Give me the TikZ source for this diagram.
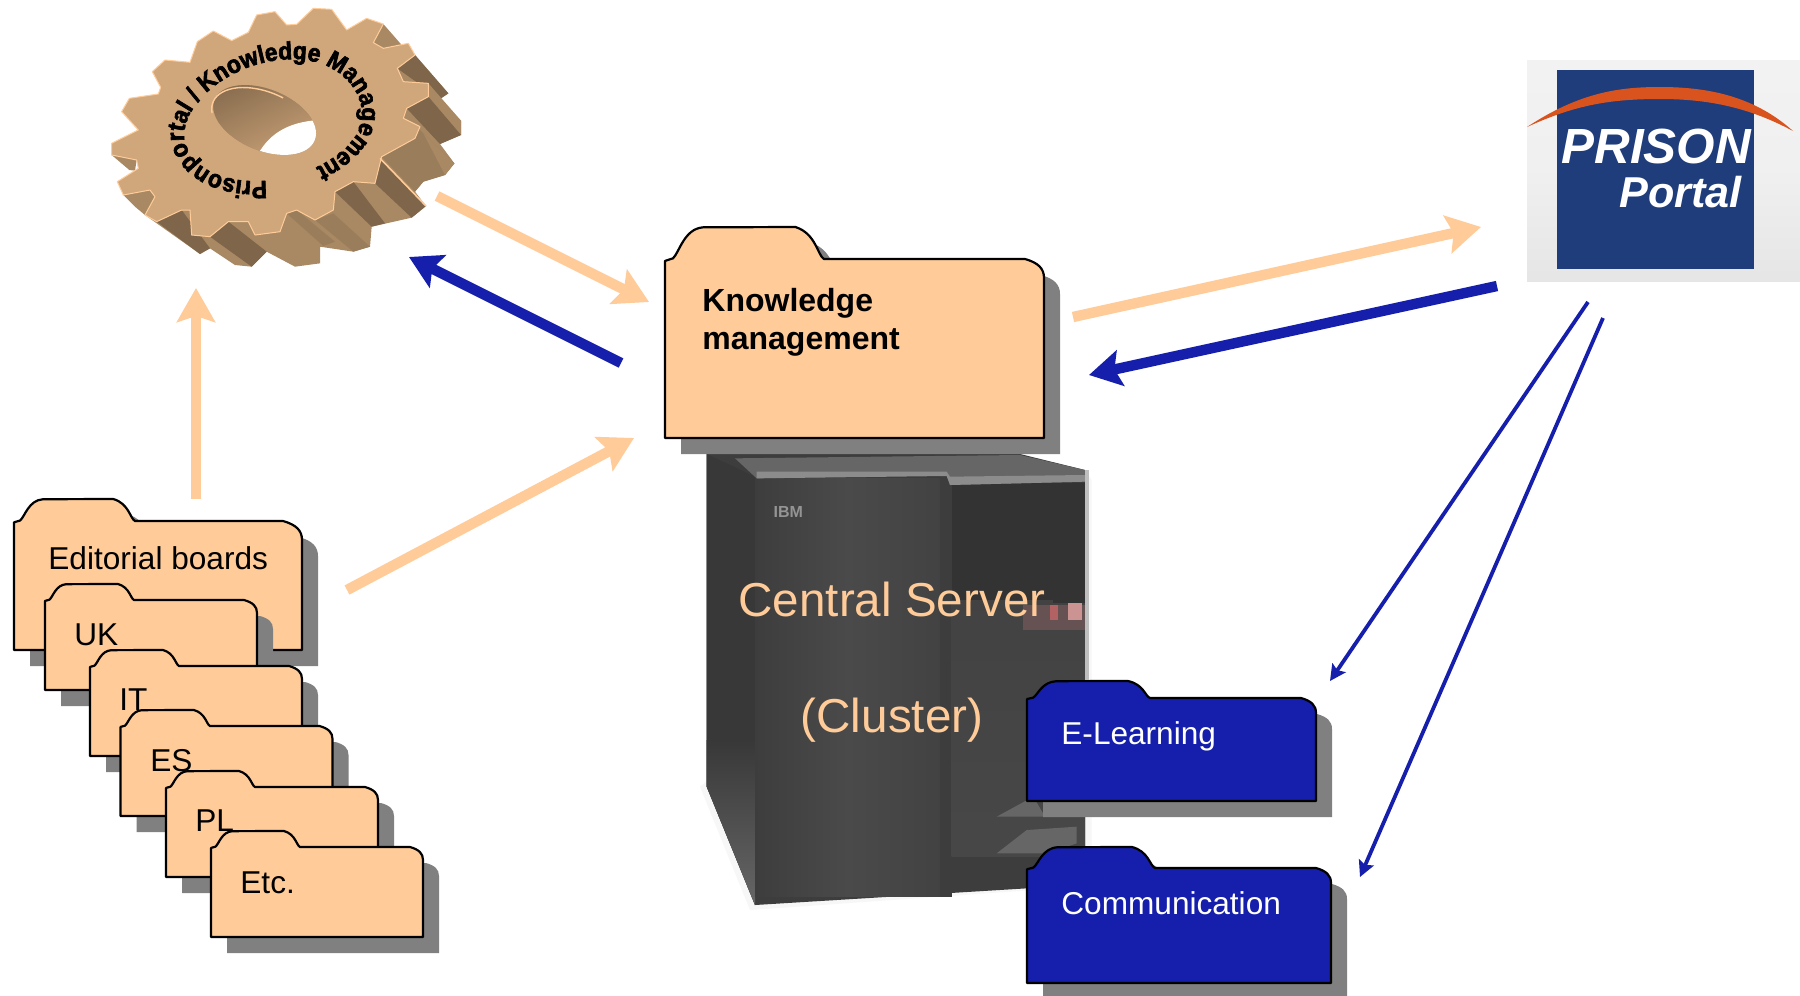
\documentclass[tikz,border=0pt]{standalone}
\usepackage{fontspec}
\setmainfont{Liberation Sans}
\newfontfamily\gearfont[UprightFont=* Bold,FakeBold=2.6,FakeStretch=0.92]{Liberation Sans}
\usetikzlibrary{arrows.meta,decorations.text,calc}
\definecolor{peach}{HTML}{FFCC99}
\definecolor{royal}{HTML}{151FAB}
\definecolor{fshadow}{HTML}{808080}
\definecolor{gearface}{HTML}{D0A67B}
\definecolor{geardark}{HTML}{7F6549}
\definecolor{gearmid}{HTML}{A98963}
\definecolor{gearmidb}{HTML}{9A7D5B}
\definecolor{logoblue}{HTML}{1F3D7A}
\definecolor{logoarc}{HTML}{D9531E}
\tikzset{
  peacharrow/.style={draw=peach,line width=5.2pt,-{Stealth[length=17pt,width=19pt,inset=3pt]}},
  bluearrow/.style={draw=royal,line width=5.2pt,-{Stealth[length=16pt,width=18pt,inset=3pt]}},
  thinarrow/.style={draw=royal,line width=1.9pt,-{Stealth[length=8pt,width=8pt,inset=1.5pt]}},
  foldertext/.style={anchor=base west,inner sep=0pt,font=\fontsize{15.8}{18}\selectfont},
}
% L R tabtop bodytop bottom tabend cornerwidth fill
\newcommand\folder[8]{%
  \pgfmathsetmacro\tw{#6-#1}\pgfmathsetmacro\th{#4-#3}%
  \fill[fill=fshadow,shift={(16,16)}] (#1,#5) -- ({#1},{#3+1.06*\th})
  .. controls ({#1+.02*\tw},{#3+1.02*\th}) and ({#1+.04*\tw},{#3+1.0*\th}) .. ({#1+.05*\tw},{#3+.98*\th})
  .. controls ({#1+.09*\tw},{#3+.8*\th}) and ({#1+.12*\tw},{#3+.05*\th}) .. ({#1+.24*\tw},{#3+.01*\th})
  -- ({#1+.82*\tw},#3)
  .. controls ({#1+.95*\tw},{#3+.2*\th}) and ({#1+.96*\tw},{#3+.9*\th}) .. (#6,#4)
  -- ({#2-#7},#4)
  .. controls ({#2-.3*#7},{#4+.2*#7}) and (#2,{#4+.5*#7}) .. (#2,{#4+#7})
  -- (#2,#5) -- cycle;
  \filldraw[fill=#8,draw=black,line width=1.1pt,line join=round] (#1,#5) -- ({#1},{#3+1.06*\th})
  .. controls ({#1+.02*\tw},{#3+1.02*\th}) and ({#1+.04*\tw},{#3+1.0*\th}) .. ({#1+.05*\tw},{#3+.98*\th})
  .. controls ({#1+.09*\tw},{#3+.8*\th}) and ({#1+.12*\tw},{#3+.05*\th}) .. ({#1+.24*\tw},{#3+.01*\th})
  -- ({#1+.82*\tw},#3)
  .. controls ({#1+.95*\tw},{#3+.2*\th}) and ({#1+.96*\tw},{#3+.9*\th}) .. (#6,#4)
  -- ({#2-#7},#4)
  .. controls ({#2-.3*#7},{#4+.2*#7}) and (#2,{#4+.5*#7}) .. (#2,{#4+#7})
  -- (#2,#5) -- cycle;}
\begin{document}
\begin{tikzpicture}[x=0.5pt,y=-0.5pt]
\useasboundingbox (0,0) rectangle (1800,996);
\fill[white] (0,0) rectangle (1800,996);

% ---------- gear
\begin{scope}[shift={(90,0)},x=0.16667pt,y=-0.16667pt]
  \fill[gearmid] (165,645)--(330,762)--(360,745)--(435,795)--(485,800)--(530,755)--(615,800)--(690,790)
    --(690,740)--(790,755)--(840,740)--(845,680)--(965,653)--(1008,618)--(975,575)--(1000,545)--(1065,525)
    --(1093,490)--(1050,432)--(1113,405)--(1113,362)--(1050,297)--(1075,280)--(975,165)--(935,135)--(880,72)--(600,300)--(100,585)--(135,620)--cycle;
  \fill[geardark] (975,165)--(1075,280)--(1050,297)--(922,205)--cycle;
  \fill[gearmid] (1015,250)--(1113,362)--(1113,405)--(1015,295)--cycle;
  \fill[geardark] (950,325)--(1015,290)--(1113,405)--(1050,432)--cycle;
  \fill[gearmidb] (985,385)--(1093,490)--(1065,525)--(1000,545)--(975,575)--(875,470)--cycle;
  \fill[gearmid] (985,385)--(1093,490)--(1065,525)--(1000,400)--cycle;
  \fill[geardark] (870,475)--(1008,618)--(965,653)--(855,550)--cycle;
  \fill[geardark] (735,575)--(790,545)--(885,670)--(845,680)--cycle;
  \fill[gearmidb] (675,660)--(730,640)--(840,740)--(790,755)--cycle;
  \fill[gearmidb] (590,640)--(620,630)--(735,725)--(700,738)--cycle;
  \fill[geardark] (360,710)--(415,665)--(530,755)--(485,800)--cycle;
  \fill[geardark] (200,665)--(275,630)--(360,745)--(330,762)--cycle;
  \fill[gearmid] (65,465)--(140,480)--(135,512)--(118,510)--cycle;
  \filldraw[fill=gearface,draw=peach,line width=0.5pt,line join=round]
    (65,430)--(145,390)--(95,335)--(118,295)--(205,282)--(212,262)--(187,215)--(225,180)--(300,187)
    --(322,125)--(370,93)--(425,122)--(475,97)--(500,45)--(555,35)--(590,75)--(620,73)--(670,25)
    --(725,28)--(770,90)--(830,55)--(880,72)--(850,128)--(880,145)--(955,130)--(975,165)--(922,205)
    --(940,245)--(1015,250)--(1015,290)--(950,325)--(940,355)--(990,380)--(975,415)--(875,470)
    --(855,550)--(790,545)--(735,575)--(730,630)--(675,660)--(620,630)--(590,640)--(570,695)
    --(495,705)--(475,665)--(415,665)--(360,710)--(305,705)--(300,630)--(275,630)--(200,665)
    --(165,645)--(195,590)--(180,570)--(100,585)--(82,545)--(145,505)--(140,480)--(65,465)--cycle;
  % bright edge of long tooth
  \draw[peach,line width=0.8pt] (870,475)--(1008,618);
  % hole
  \begin{scope}
    \clip[rotate around={-22:(524,360)}] (524,360) ellipse [x radius=162,y radius=92];
    \fill[gearmid] (340,230) rectangle (700,490);
    \shade[left color=geardark!75!gearmid,right color=gearface!85!gearmid,shading angle=25] (360,240) rectangle (700,480);
    \fill[white] (495,480) .. controls (530,405) and (590,365) .. (690,360) -- (700,490) -- cycle;
  \end{scope}
  \draw[peach,line width=0.7pt,rotate around={-22:(524,360)}] (370,400) arc [start angle=160,end angle=280,x radius=162,y radius=92];
  % curved text
  \path[postaction={decorate,decoration={text along path,text align={left},
     text={|\gearfont\fontsize{12.4}{13}\selectfont|Prisonportal / Knowledge Management}}}]
    (530,542) .. controls (420,552) and (305,515) .. (283,420)
    .. controls (270,310) and (430,180) .. (600,178)
    .. controls (725,172) and (815,255) .. (815,340)
    .. controls (815,410) and (760,470) .. (640,520);
\end{scope}

% ---------- server
\begin{scope}[shift={(680,440)},x=0.16667pt,y=-0.16667pt]
  \fill[white!97!black] (60,1040)--(210,1410)--(1060,1350)--(1235,1250)--(1235,120)--(1215,90)--cycle;
  \fill[black!76] (80,42)--(1020,42)--(1215,90)--(1215,1250)--(1040,1345)--(225,1395)--(80,1040)--cycle;
  % left side
  \fill[black!78] (80,42)--(225,110)--(225,1395)--(80,1040)--cycle;
  \shade[top color=black!78,bottom color=black!60] (80,900)--(225,900)--(225,1395)--(80,1040)--cycle;
  % front panels
  \shade[left color=black!76,right color=black!74,middle color=black!71] (225,115) rectangle (780,1370);
  \fill[black!76] (780,110) rectangle (815,1370);
  \fill[black!80] (815,130) rectangle (1215,480);
  \shade[top color=black!74,bottom color=black!72] (815,480) rectangle (1215,1250);
  % top
  \fill[black!60] (165,55)--(1020,45)--(1215,90)--(1215,125)--(810,135)--(800,105)--(230,115)--cycle;
  \fill[black!45] (230,95)--(800,95)--(810,110)--(1215,105)--(1215,125)--(810,135)--(800,108)--(230,115)--cycle;
  % badge
  \node[name=ibm,inner sep=0pt,text=black!42] at (325,215) {\fontsize{8}{8}\selectfont\bfseries IBM};
  % lights
  \fill[fill=red!12!black!68] (1030,495) rectangle (1215,570);
  \fill[white!72!red!80!black] (1165,490) rectangle (1205,540);
  \fill[white!55!red!70!black] (1110,495) rectangle (1135,540);
  \fill[black!80] (1120,445) rectangle (1215,488);
  % lower vents
  \fill[black!60] (950,1130)--(1060,1070)--(1095,1130)--cycle;
  \fill[black!60] (950,1240)--(1040,1170)--(1190,1160)--(1190,1210)--(1100,1240)--cycle;
  % right edge
  \fill[black!25] (1215,90) rectangle (1228,720);
\end{scope}
\node[name=central,anchor=base,inner sep=0pt,text=peach,font=\fontsize{23.8}{26}\selectfont] at (892,616) {Central Server};
\node[name=cluster,anchor=base,inner sep=0pt,text=peach,font=\fontsize{23.8}{26}\selectfont] at (892,732) {(Cluster)};

% ---------- folders
\folder{14}{302}{499}{521}{650}{135}{19}{peach}
\node[foldertext,name=edt] at (48,569) {Editorial boards};
\folder{45}{257}{584}{600}{690}{134}{13}{peach}
\node[foldertext,name=ukt] at (74,645) {UK};
\folder{90}{302}{650}{666}{756}{179}{13}{peach}
\node[foldertext,name=itt] at (119,710) {IT};
\folder{120.5}{332.5}{710}{726}{816}{210}{13}{peach}
\node[foldertext,name=est] at (150,771) {ES};
\folder{166}{378}{771}{787}{877}{255}{13}{peach}
\node[foldertext,name=plt] at (195,831) {PL};
\folder{211}{423}{831}{847}{937}{300}{13}{peach}
\node[foldertext,name=etct] at (240,893) {Etc.};

\folder{665}{1044}{227}{259}{438}{824}{19}{peach}
\node[foldertext,name=kma,font=\fontsize{16}{18}\selectfont\bfseries] at (702,311) {Knowledge};
\node[foldertext,name=kmb,font=\fontsize{16}{18}\selectfont\bfseries] at (702,349) {management};

\folder{1027}{1316}{681}{698}{801}{1150}{15}{royal}
\node[foldertext,name=elt,text=white] at (1061,744) {E-Learning};
\folder{1027}{1331}{847}{868}{983}{1155}{15}{royal}
\node[foldertext,name=cot,text=white] at (1061,914) {Communication};

% ---------- logo
\shade[top color=black!5,bottom color=black!10,middle color=black!6] (1527,60) rectangle (1800,281);
\fill[logoblue] (1557,70) rectangle (1754,269);
\fill[logoarc] (1527,127) .. controls (1580,92) and (1620,87) .. (1660,87)
   .. controls (1710,87) and (1755,97) .. (1793,131)
   .. controls (1750,108) and (1710,99) .. (1660,99)
   .. controls (1610,99) and (1575,105) .. (1527,127) -- cycle;
\node[name=prison,anchor=base west,inner sep=0pt,text=white,font=\fontsize{24.7}{26}\selectfont\bfseries\itshape] at (1561,163) {PRISON};
\node[name=portal,anchor=base west,inner sep=0pt,text=white,font=\fontsize{21.6}{23}\selectfont\bfseries\itshape] at (1619,207) {Portal};

% ---------- connector ends
\coordinate (g1) at (437,196);
\coordinate (k1) at (649,302);
\coordinate (k2) at (621,363);
\coordinate (g2) at (409,257);
\coordinate (e1) at (196,499);
\coordinate (g3) at (196,288);
\coordinate (e2) at (347,590);
\coordinate (k3) at (634,438);
\coordinate (k4) at (1073,317);
\coordinate (p1) at (1481,227);
\coordinate (p2) at (1497,286);
\coordinate (k5) at (1089,375);
\coordinate (p3) at (1588,302);
\coordinate (l1) at (1330,681);
\coordinate (p4) at (1603,318);
\coordinate (c1) at (1360,877);

\draw[peacharrow] (g1) -- (k1);
\draw[bluearrow] (k2) -- (g2);
\draw[peacharrow] (e1) -- (g3);
\draw[peacharrow] (e2) -- (k3);
\draw[peacharrow] (k4) -- (p1);
\draw[bluearrow] (p2) -- (k5);
\draw[thinarrow] (p3) -- (l1);
\draw[thinarrow] (p4) -- (c1);
\end{tikzpicture}
\end{document}
